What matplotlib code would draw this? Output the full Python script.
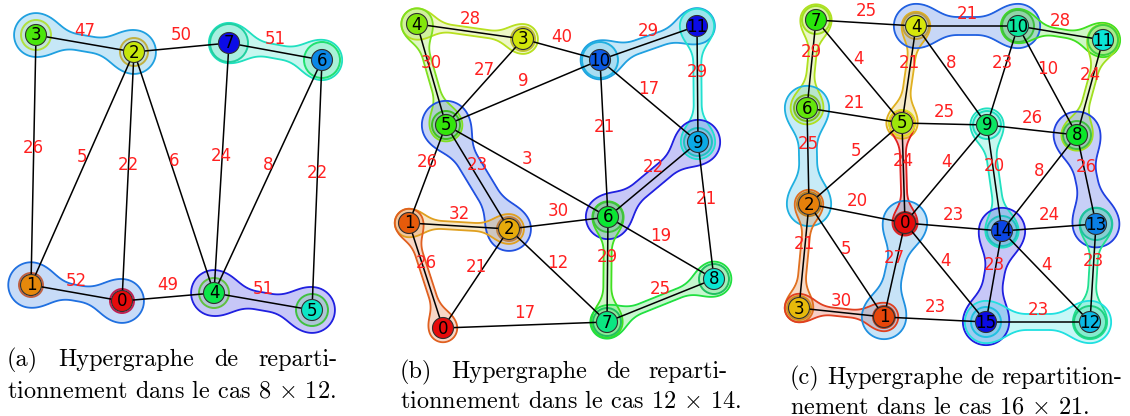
import colorsys
import numpy as np
import matplotlib
matplotlib.use("Agg")
import matplotlib.pyplot as plt
from matplotlib.patches import Circle

plt.rcParams['mathtext.fontset'] = 'cm'

# ---------------- data ----------------
# panel (a) 8 x 12
a_x = [122, 31, 134, 36, 214, 312, 322, 229]
a_y = [301, 285, 52, 35, 293, 310, 60, 43]
a_u = [3, 2, 7, 3, 2, 2, 2, 7, 6, 6, 1, 0, 4]
a_v = [2, 7, 6, 1, 1, 0, 4, 4, 4, 5, 0, 4, 5]
a_w = [47, 50, 51, 26, 5, 22, 6, 24, 8, 22, 52, 49, 51]
a_hyper = [(3, 2), (7, 6), (1, 0), (4, 5)]

# panel (b) 12 x 14
b_x = [443, 409, 509, 523, 417, 446, 608, 607, 714, 698, 600, 697]
b_y = [328, 223, 229, 39, 24, 125, 217, 322, 279, 142, 60, 26]
b_u = [4, 3, 10, 4, 3, 5, 10, 11, 10, 5, 5, 5, 6, 9, 1, 2, 6, 1, 2, 2, 6, 7, 0]
b_v = [3, 10, 11, 5, 5, 10, 9, 9, 6, 1, 2, 6, 9, 8, 2, 6, 8, 0, 0, 7, 7, 8, 7]
b_w = [28, 40, 29, 30, 27, 9, 17, 29, 21, 26, 23, 3, 22, 21, 32, 30, 19, 26, 21, 12, 29, 25, 17]
b_hyper = [(4, 3), (4, 5), (5, 2), (1, 2), (1, 0), (10, 11), (11, 9), (9, 6), (6, 7), (7, 8)]

# panel (c) 16 x 21
c_x = [905, 884, 809, 799, 916, 902, 807, 816, 1077, 987, 1018, 1103, 1090, 1096, 1002, 986]
c_y = [223, 317, 204, 308, 26, 123, 108, 20, 135, 125, 26, 40, 322, 224, 231, 322]
c_u = [7, 4, 10, 7, 7, 4, 4, 10, 10, 11, 6, 5, 9, 6, 5, 5, 9, 9, 8, 8, 2, 0, 14, 2, 2, 0, 0, 14, 14, 13, 3, 1, 15]
c_v = [4, 10, 11, 6, 5, 5, 9, 9, 8, 8, 5, 9, 8, 2, 2, 0, 0, 14, 14, 13, 0, 14, 13, 3, 1, 1, 15, 15, 12, 12, 1, 15, 12]
c_w = [25, 21, 28, 29, 4, 21, 8, 23, 10, 24, 21, 25, 26, 25, 5, 24, 4, 20, 8, 26, 20, 23, 24, 21, 5, 27, 4, 23, 4, 23, 30, 23, 23]
c_hyper = [(7, 6), (4, 5), (4, 10), (10, 11), (11, 8), (6, 2), (5, 0), (9, 14), (8, 13),
           (2, 3), (3, 1), (0, 1), (14, 15), (13, 12), (15, 12)]

captions = [
    (["(a)", "Hypergraphe", "de", "reparti-"], "tionnement dans le cas $8\\,\\times\\,12$."),
    (["(b)", "Hypergraphe", "de", "reparti-"], "tionnement dans le cas $12\\,\\times\\,14$."),
    (["(c)", "Hypergraphe", "de", "repartition-"], "nement dans le cas $16\\,\\times\\,21$."),
]

# ---------------- styles ----------------
a_hstyle = [('#1fa0e0', 21, 21, 8), ('#20e0c0', 19, 19, 7), ('#2070e0', 22, 21, 8), ('#2020e0', 22, 22, 9)]
b_hstyle = [('#b8e020', 14, 13, 4), ('#80e020', 14, 15, 4), ('#2050e0', 23, 20, 11), ('#e0a020', 12, 13, 4),
            ('#e06020', 12, 12, 4), ('#20a0e0', 18, 16, 7), ('#20e0d0', 16, 16, 4), ('#2020e0', 21, 21, 9),
            ('#40e020', 14, 14, 4), ('#20e040', 15, 16, 5)]
c_hstyle = [('#b0e020', 14, 15, 4), ('#e0b020', 12, 14, 4), ('#2060e0', 21, 21, 9), ('#40e020', 16, 16, 4),
            ('#a0e020', 14, 14, 4), ('#20b0e0', 21, 21, 9), ('#e02020', 10, 10, 3), ('#20e0c0', 15, 15, 5),
            ('#2040e0', 22, 22, 11), ('#e07020', 12, 12, 4), ('#e04020', 12, 12, 4), ('#2090e0', 21, 21, 9),
            ('#2020e0', 22, 22, 10), ('#20e090', 15, 16, 4), ('#20e0e0', 20, 20, 8)]

a_rings = [('#c02050', 12), ('#c06040', 12), ('#c0b040', 14), ('#b0e040', 15), ('#60c040', 15),
           ('#40c040', 16), ('#20e070', 18), ('#20d0a0', 19)]
b_rings = [None, None, ('#c08040', 12), ('#c0c030', 12), None, ('#40c020', 14), ('#40c040', 15),
           ('#20c060', 14), ('#20c060', 15), ('#20c0c0', 14), ('#20b0e0', 18), None]
c_rings = [('#c02020', 11), ('#c04020', 11), ('#c08020', 12), ('#d09020', 12), ('#c0a040', 13),
           ('#e0e020', 13), ('#80c020', 13), ('#a0e020', 14), ('#40c040', 14), ('#20e0c0', 14),
           ('#40c040', 16), ('#40d040', 15), ('#20d080', 16), ('#20c0a0', 16), ('#20c0c0', 15), ('#20c0e0', 15)]

W, H = 1130, 416
fig = plt.figure(figsize=(W / 100, H / 100), dpi=100)
ax = fig.add_axes([0, 0, 1, 1])
ax.set_xlim(0, W)
ax.set_ylim(H, 0)
ax.axis('off')


def smin(a, b, k):
    h = np.clip(0.5 + 0.5 * (b - a) / k, 0, 1)
    return b * (1 - h) + a * h - k * h * (1 - h)


def blob(p, q, color, r1, r2, w):
    pad = max(r1, r2) + 10
    xs = np.arange(min(p[0], q[0]) - pad, max(p[0], q[0]) + pad, 0.5)
    ys = np.arange(min(p[1], q[1]) - pad, max(p[1], q[1]) + pad, 0.5)
    X, Y = np.meshgrid(xs, ys)
    dA = np.hypot(X - p[0], Y - p[1]) - r1
    dB = np.hypot(X - q[0], Y - q[1]) - r2
    dx, dy = q[0] - p[0], q[1] - p[1]
    t = np.clip(((X - p[0]) * dx + (Y - p[1]) * dy) / (dx * dx + dy * dy), 0, 1)
    dS = np.hypot(X - p[0] - t * dx, Y - p[1] - t * dy) - w
    f = smin(smin(dA, dB, 6), dS, 22)
    ax.contourf(X, Y, f, levels=[f.min() - 1, 0], colors=[color], alpha=0.25, zorder=1)
    ax.contour(X, Y, f, levels=[0], colors=[color], linewidths=1.3, zorder=1.2)


def panel(xs, ys, us, vs, ws, hyper, hstyle, rings):
    n = len(xs)
    for (i, j), (col, r1, r2, w) in zip(hyper, hstyle):
        blob((xs[i], ys[i]), (xs[j], ys[j]), col, r1, r2, w)
    for i, rg in enumerate(rings):
        if rg is None:
            continue
        col, r = rg
        ax.add_patch(Circle((xs[i], ys[i]), r, facecolor=col, alpha=0.18, edgecolor='none', zorder=2))
        ax.add_patch(Circle((xs[i], ys[i]), r, facecolor='none', edgecolor=col, lw=1.4, zorder=2.1))
    for u, v, wt in zip(us, vs, ws):
        ax.plot([xs[u], xs[v]], [ys[u], ys[v]], color='k', lw=1.1, zorder=3)
        mx, my = (xs[u] + xs[v]) / 2, (ys[u] + ys[v]) / 2
        ax.text(mx, my - 12, str(wt), color='#ff2020', fontsize=12, ha='center', va='center', zorder=6)
    for i in range(n):
        h = i / (n - 1) * 2 / 3
        col = colorsys.hsv_to_rgb(h, 0.95, 0.9)
        ax.add_patch(Circle((xs[i], ys[i]), 10.5, facecolor=col, edgecolor='#303030', lw=0.8, zorder=4))
        ax.text(xs[i], ys[i] + 0.5, str(i), fontsize=12, ha='center', va='center', color='k', zorder=5)


panel(a_x, a_y, a_u, a_v, a_w, a_hyper, a_hstyle, a_rings)
panel(b_x, b_y, b_u, b_v, b_w, b_hyper, b_hstyle, b_rings)
panel(c_x, c_y, c_u, c_v, c_w, c_hyper, c_hstyle, c_rings)

# captions
cap_fs = 17.5
cap_x = [(7, 338), (400, 728), (790, 1122)]
cap_y = [(366, 398), (378, 408), (384, 413)]
renderer = fig.canvas.get_renderer()
for (words, line2), (x0, x1), (y1, y2) in zip(captions, cap_x, cap_y):
    ts = [ax.text(0, y1, wd, fontsize=cap_fs, family='cmr10', va='baseline', ha='left') for wd in words]
    widths = [t.get_window_extent(renderer).width for t in ts]
    gap = (x1 - x0 - sum(widths)) / (len(words) - 1)
    x = x0
    for t, wd in zip(ts, widths):
        t.set_x(x)
        x += wd + gap
    ax.text(x0, y2, line2, fontsize=cap_fs, family='cmr10', va='baseline', ha='left')

fig.savefig('out.png', dpi=100)
